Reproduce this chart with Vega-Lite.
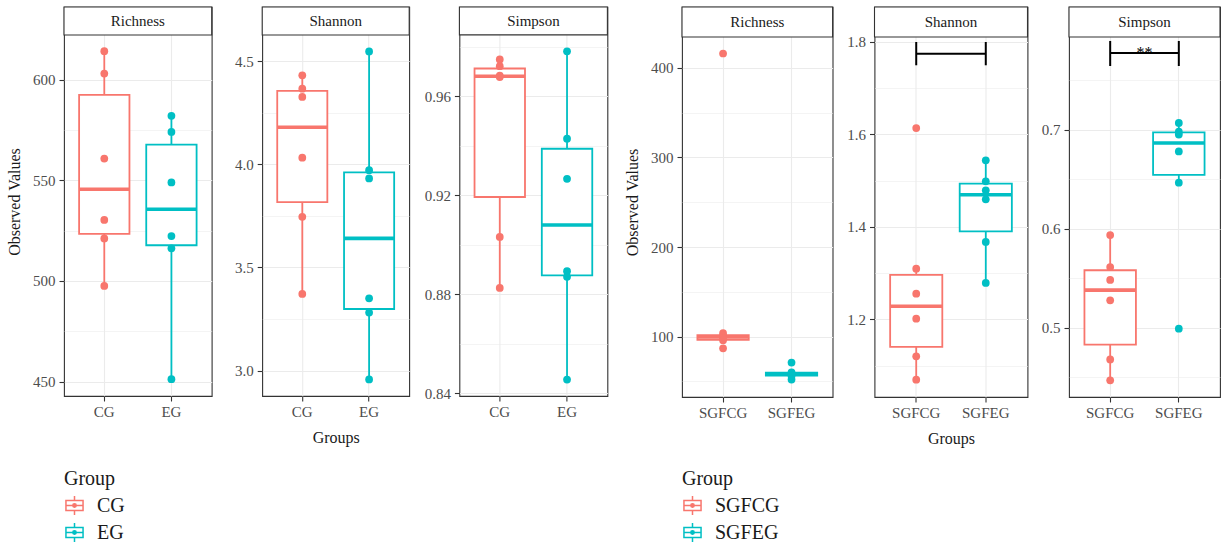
{
  "$schema": "https://vega.github.io/schema/vega-lite/v6.json",
  "padding": {"left": 5, "top": 5, "right": 0, "bottom": 0},
  "config": {
    "font": "Liberation Serif",
    "view": {"stroke": "#333333", "strokeWidth": 1.1},
    "axis": {"labelFontSize": 15, "labelColor": "#4D4D4D", "tickColor": "#333333", "tickSize": 5, "tickWidth": 1.1, "domain": false, "gridColor": "#EBEBEB", "titleFontSize": 16, "titleFontWeight": "normal", "titleColor": "#1A1A1A", "labelPadding": 4},
    "axisX": {"labelPadding": 3, "labelAngle": 0, "gridWidth": 1.1, "titlePadding": 10}
  },
  "datasets": {
    "pts": [
      {"panel": "L_Rich", "group": "CG", "value": 614.1}, {"panel": "L_Rich", "group": "CG", "value": 603.0}, {"panel": "L_Rich", "group": "CG", "value": 560.8}, {"panel": "L_Rich", "group": "CG", "value": 530.3}, {"panel": "L_Rich", "group": "CG", "value": 521.1}, {"panel": "L_Rich", "group": "CG", "value": 497.5},
      {"panel": "L_Rich", "group": "EG", "value": 582.0}, {"panel": "L_Rich", "group": "EG", "value": 574.0}, {"panel": "L_Rich", "group": "EG", "value": 548.9}, {"panel": "L_Rich", "group": "EG", "value": 522.3}, {"panel": "L_Rich", "group": "EG", "value": 516.2}, {"panel": "L_Rich", "group": "EG", "value": 451.2},
      {"panel": "L_Shan", "group": "CG", "value": 4.431}, {"panel": "L_Shan", "group": "CG", "value": 4.366}, {"panel": "L_Shan", "group": "CG", "value": 4.326}, {"panel": "L_Shan", "group": "CG", "value": 4.032}, {"panel": "L_Shan", "group": "CG", "value": 3.745}, {"panel": "L_Shan", "group": "CG", "value": 3.371},
      {"panel": "L_Shan", "group": "EG", "value": 4.547}, {"panel": "L_Shan", "group": "EG", "value": 3.971}, {"panel": "L_Shan", "group": "EG", "value": 3.931}, {"panel": "L_Shan", "group": "EG", "value": 3.350}, {"panel": "L_Shan", "group": "EG", "value": 3.281}, {"panel": "L_Shan", "group": "EG", "value": 2.957},
      {"panel": "L_Simp", "group": "CG", "value": 0.9749}, {"panel": "L_Simp", "group": "CG", "value": 0.9722}, {"panel": "L_Simp", "group": "CG", "value": 0.9684}, {"panel": "L_Simp", "group": "CG", "value": 0.9678}, {"panel": "L_Simp", "group": "CG", "value": 0.9032}, {"panel": "L_Simp", "group": "CG", "value": 0.8826},
      {"panel": "L_Simp", "group": "EG", "value": 0.9782}, {"panel": "L_Simp", "group": "EG", "value": 0.9429}, {"panel": "L_Simp", "group": "EG", "value": 0.9267}, {"panel": "L_Simp", "group": "EG", "value": 0.8894}, {"panel": "L_Simp", "group": "EG", "value": 0.8871}, {"panel": "L_Simp", "group": "EG", "value": 0.8456},
      {"panel": "R_Rich", "group": "SGFCG", "value": 416}, {"panel": "R_Rich", "group": "SGFCG", "value": 104}, {"panel": "R_Rich", "group": "SGFCG", "value": 101}, {"panel": "R_Rich", "group": "SGFCG", "value": 98}, {"panel": "R_Rich", "group": "SGFCG", "value": 96}, {"panel": "R_Rich", "group": "SGFCG", "value": 87},
      {"panel": "R_Rich", "group": "SGFEG", "value": 71}, {"panel": "R_Rich", "group": "SGFEG", "value": 60}, {"panel": "R_Rich", "group": "SGFEG", "value": 59}, {"panel": "R_Rich", "group": "SGFEG", "value": 58}, {"panel": "R_Rich", "group": "SGFEG", "value": 56}, {"panel": "R_Rich", "group": "SGFEG", "value": 52},
      {"panel": "R_Shan", "group": "SGFCG", "value": 1.6139}, {"panel": "R_Shan", "group": "SGFCG", "value": 1.3095}, {"panel": "R_Shan", "group": "SGFCG", "value": 1.2554}, {"panel": "R_Shan", "group": "SGFCG", "value": 1.2013}, {"panel": "R_Shan", "group": "SGFCG", "value": 1.1199}, {"panel": "R_Shan", "group": "SGFCG", "value": 1.0693},
      {"panel": "R_Shan", "group": "SGFEG", "value": 1.5440}, {"panel": "R_Shan", "group": "SGFEG", "value": 1.4986}, {"panel": "R_Shan", "group": "SGFEG", "value": 1.4791}, {"panel": "R_Shan", "group": "SGFEG", "value": 1.4597}, {"panel": "R_Shan", "group": "SGFEG", "value": 1.3673}, {"panel": "R_Shan", "group": "SGFEG", "value": 1.2786},
      {"panel": "R_Simp", "group": "SGFCG", "value": 0.5936}, {"panel": "R_Simp", "group": "SGFCG", "value": 0.5613}, {"panel": "R_Simp", "group": "SGFCG", "value": 0.5482}, {"panel": "R_Simp", "group": "SGFCG", "value": 0.5276}, {"panel": "R_Simp", "group": "SGFCG", "value": 0.4680}, {"panel": "R_Simp", "group": "SGFCG", "value": 0.4468},
      {"panel": "R_Simp", "group": "SGFEG", "value": 0.7068}, {"panel": "R_Simp", "group": "SGFEG", "value": 0.6980}, {"panel": "R_Simp", "group": "SGFEG", "value": 0.6950}, {"panel": "R_Simp", "group": "SGFEG", "value": 0.6780}, {"panel": "R_Simp", "group": "SGFEG", "value": 0.6465}, {"panel": "R_Simp", "group": "SGFEG", "value": 0.4990}
    ],
    "box": [
      {"panel": "L_Rich", "group": "CG", "lower": 497.5, "q1": 523.4, "median": 545.55, "q3": 592.45, "upper": 614.1},
      {"panel": "L_Rich", "group": "EG", "lower": 451.2, "q1": 517.73, "median": 535.6, "q3": 567.73, "upper": 582.0},
      {"panel": "L_Shan", "group": "CG", "lower": 3.371, "q1": 3.8168, "median": 4.179, "q3": 4.356, "upper": 4.431},
      {"panel": "L_Shan", "group": "EG", "lower": 2.957, "q1": 3.2983, "median": 3.6405, "q3": 3.961, "upper": 4.547},
      {"panel": "L_Simp", "group": "CG", "lower": 0.8826, "q1": 0.91935, "median": 0.9681, "q3": 0.97125, "upper": 0.9749},
      {"panel": "L_Simp", "group": "EG", "lower": 0.8456, "q1": 0.88768, "median": 0.90805, "q3": 0.93885, "upper": 0.9782},
      {"panel": "R_Rich", "group": "SGFCG", "lower": 96, "q1": 96.5, "median": 99.5, "q3": 101.75, "upper": 104},
      {"panel": "R_Rich", "group": "SGFEG", "lower": 52, "q1": 56.5, "median": 58.5, "q3": 59.75, "upper": 60},
      {"panel": "R_Shan", "group": "SGFCG", "lower": 1.0693, "q1": 1.14025, "median": 1.22835, "q3": 1.29598, "upper": 1.3095},
      {"panel": "R_Shan", "group": "SGFEG", "lower": 1.2786, "q1": 1.3904, "median": 1.4694, "q3": 1.49373, "upper": 1.544},
      {"panel": "R_Simp", "group": "SGFCG", "lower": 0.4468, "q1": 0.4829, "median": 0.5379, "q3": 0.55803, "upper": 0.5936},
      {"panel": "R_Simp", "group": "SGFEG", "lower": 0.6465, "q1": 0.65438, "median": 0.6865, "q3": 0.69725, "upper": 0.7068}
    ],
    "sig": [
      {"panel": "R_Shan", "group": "SGFCG", "top": 1.80, "bar": 1.7747, "bottom": 1.7496, "label": "", "label_y": 1.78},
      {"panel": "R_Shan", "group": "SGFEG", "top": 1.80, "bar": 1.7747, "bottom": 1.7496, "label": "", "label_y": 1.78},
      {"panel": "R_Simp", "group": "SGFCG", "top": 0.7896, "bar": 0.7775, "bottom": 0.7643, "label": "**", "label_y": 0.7724},
      {"panel": "R_Simp", "group": "SGFEG", "top": 0.7896, "bar": 0.7775, "bottom": 0.7643, "label": "", "label_y": 0.7724}
    ]
  },
  "resolve": {"scale": {"stroke": "independent", "fill": "independent"}},
  "spacing": 14,
  "hconcat": [
    {
      "spacing": 50.2,
      "bounds": "flush",
      "resolve": {"scale": {"stroke": "independent", "fill": "independent"}},
      "hconcat": [
        {
          "width": 147.7, "height": 389,
          "layer": [
            {"data": {"name": "box"}, "transform": [{"filter": "datum.panel === 'L_Rich'"}],
             "mark": {"type": "rule", "strokeWidth": 1.8},
             "encoding": {
               "x": {"field": "group", "type": "nominal", "title": null, "scale": {"type": "band", "domain": ["CG", "EG"], "paddingInner": 0.25, "paddingOuter": 0.225}, "axis": {"title": null, "grid": true, "bandPosition": 0.5}},
               "y": {"field": "lower", "type": "quantitative", "title": "Observed Values", "scale": {"domain": [442.85, 636.06], "nice": false, "zero": false},
                     "axis": {"title": "Observed Values", "titlePadding": 5.6, "titleY": 194.5, "minExtent": 36, "maxExtent": 36, "values": [450, 475, 500, 525, 550, 575, 600], "format": "d",
                              "labelExpr": "indexof([450,500,550,600], datum.value) >= 0 ? datum.label : ''",
                              "tickOpacity": {"condition": {"test": "indexof([450,500,550,600], datum.value) >= 0", "value": 1}, "value": 0},
                              "gridWidth": {"condition": {"test": "indexof([450,500,550,600], datum.value) >= 0", "value": 1.1}, "value": 0.55}}},
               "y2": {"field": "upper"},
               "stroke": {"field": "group", "type": "nominal", "title": "Group", "scale": {"domain": ["CG", "EG"], "range": ["#F8766D", "#00BFC4"]}}}},
            {"data": {"name": "box"}, "transform": [{"filter": "datum.panel === 'L_Rich'"}],
             "mark": {"type": "bar", "fill": "white", "strokeWidth": 1.8},
             "encoding": {
               "x": {"field": "group", "type": "nominal", "title": null, "scale": {"type": "band", "domain": ["CG", "EG"], "paddingInner": 0.25, "paddingOuter": 0.225}},
               "y": {"field": "q1", "type": "quantitative", "title": "Observed Values", "scale": {"domain": [442.85, 636.06], "nice": false, "zero": false}},
               "y2": {"field": "q3"},
               "stroke": {"field": "group", "type": "nominal", "title": "Group", "scale": {"domain": ["CG", "EG"], "range": ["#F8766D", "#00BFC4"]},
                         "legend": {"title": "Group", "orient": "none", "legendX": 0, "legendY": 462, "symbolType": "M-0.98,-0.52H0.98 M0.9,-0.6V0.6 M0.98,0.52H-0.98 M-0.9,0.6V-0.6 M-0.9,0H0.9 M0,-1V-0.52 M0,0.52V1 M-0.18,0A0.18,0.18 0 1,0 0.18,0A0.18,0.18 0 1,0 -0.18,0", "symbolSize": 361, "symbolStrokeWidth": 1.5, "labelFontSize": 20, "titleFontSize": 20, "titleFontWeight": "normal", "labelOffset": 12, "rowPadding": 2, "titlePadding": 6, "labelColor": "#1A1A1A", "titleColor": "#1A1A1A"}}}},
            {"data": {"name": "box"}, "transform": [{"filter": "datum.panel === 'L_Rich'"}],
             "mark": {"type": "bar", "fill": "white", "strokeWidth": 3.6},
             "encoding": {
               "x": {"field": "group", "type": "nominal", "title": null, "scale": {"type": "band", "domain": ["CG", "EG"], "paddingInner": 0.25, "paddingOuter": 0.225}},
               "y": {"field": "median", "type": "quantitative", "title": "Observed Values", "scale": {"domain": [442.85, 636.06], "nice": false, "zero": false}},
               "y2": {"field": "median"},
               "stroke": {"field": "group", "type": "nominal", "title": "Group", "scale": {"domain": ["CG", "EG"], "range": ["#F8766D", "#00BFC4"]}}}},
            {"data": {"name": "pts"}, "transform": [{"filter": "datum.panel === 'L_Rich'"}],
             "mark": {"type": "circle", "size": 60, "opacity": 1},
             "encoding": {
               "x": {"field": "group", "type": "nominal", "title": null, "scale": {"type": "band", "domain": ["CG", "EG"], "paddingInner": 0.25, "paddingOuter": 0.225}},
               "y": {"field": "value", "type": "quantitative", "title": "Observed Values", "scale": {"domain": [442.85, 636.06], "nice": false, "zero": false}},
               "fill": {"field": "group", "type": "nominal", "scale": {"domain": ["CG", "EG"], "range": ["#F8766D", "#00BFC4"]}, "legend": null}}},
            {"data": {"values": [{"label": "Richness"}]},
             "mark": {"type": "rect", "fill": "white", "stroke": "#333333", "strokeWidth": 1.1},
             "encoding": {"y": {"datum": 622.15, "type": "quantitative", "title": "Observed Values", "scale": {"domain": [442.85, 636.06], "nice": false, "zero": false}}, "y2": {"datum": 636.06}}},
            {"data": {"values": [{"label": "Richness"}]},
             "mark": {"type": "text", "fontSize": 15, "color": "#1A1A1A"},
             "encoding": {"y": {"datum": 629.1, "type": "quantitative", "title": "Observed Values", "scale": {"domain": [442.85, 636.06], "nice": false, "zero": false}}, "text": {"field": "label"}}}
          ]
        },
        {
          "width": 147, "height": 389,
          "layer": [
            {"data": {"name": "box"}, "transform": [{"filter": "datum.panel === 'L_Shan'"}],
             "mark": {"type": "rule", "strokeWidth": 1.8},
             "encoding": {
               "x": {"field": "group", "type": "nominal", "title": "Groups", "scale": {"type": "band", "domain": ["CG", "EG"], "paddingInner": 0.25, "paddingOuter": 0.225}, "axis": {"title": "Groups", "grid": true, "bandPosition": 0.5}},
               "y": {"field": "lower", "type": "quantitative", "title": null, "scale": {"domain": [2.8765, 4.7622], "nice": false, "zero": false},
                     "axis": {"title": null, "values": [3.0, 3.25, 3.5, 3.75, 4.0, 4.25, 4.5], "format": ".1f",
                              "labelExpr": "indexof([3,3.5,4,4.5], datum.value) >= 0 ? datum.label : ''",
                              "tickOpacity": {"condition": {"test": "indexof([3,3.5,4,4.5], datum.value) >= 0", "value": 1}, "value": 0},
                              "gridWidth": {"condition": {"test": "indexof([3,3.5,4,4.5], datum.value) >= 0", "value": 1.1}, "value": 0.55}}},
               "y2": {"field": "upper"},
               "stroke": {"field": "group", "type": "nominal", "scale": {"domain": ["CG", "EG"], "range": ["#F8766D", "#00BFC4"]}, "legend": null}}},
            {"data": {"name": "box"}, "transform": [{"filter": "datum.panel === 'L_Shan'"}],
             "mark": {"type": "bar", "fill": "white", "strokeWidth": 1.8},
             "encoding": {
               "x": {"field": "group", "type": "nominal", "title": "Groups", "scale": {"type": "band", "domain": ["CG", "EG"], "paddingInner": 0.25, "paddingOuter": 0.225}},
               "y": {"field": "q1", "type": "quantitative", "title": null, "scale": {"domain": [2.8765, 4.7622], "nice": false, "zero": false}},
               "y2": {"field": "q3"},
               "stroke": {"field": "group", "type": "nominal", "scale": {"domain": ["CG", "EG"], "range": ["#F8766D", "#00BFC4"]}, "legend": null}}},
            {"data": {"name": "box"}, "transform": [{"filter": "datum.panel === 'L_Shan'"}],
             "mark": {"type": "bar", "fill": "white", "strokeWidth": 3.6},
             "encoding": {
               "x": {"field": "group", "type": "nominal", "title": "Groups", "scale": {"type": "band", "domain": ["CG", "EG"], "paddingInner": 0.25, "paddingOuter": 0.225}},
               "y": {"field": "median", "type": "quantitative", "title": null, "scale": {"domain": [2.8765, 4.7622], "nice": false, "zero": false}},
               "y2": {"field": "median"},
               "stroke": {"field": "group", "type": "nominal", "scale": {"domain": ["CG", "EG"], "range": ["#F8766D", "#00BFC4"]}, "legend": null}}},
            {"data": {"name": "pts"}, "transform": [{"filter": "datum.panel === 'L_Shan'"}],
             "mark": {"type": "circle", "size": 60, "opacity": 1},
             "encoding": {
               "x": {"field": "group", "type": "nominal", "title": "Groups", "scale": {"type": "band", "domain": ["CG", "EG"], "paddingInner": 0.25, "paddingOuter": 0.225}},
               "y": {"field": "value", "type": "quantitative", "title": null, "scale": {"domain": [2.8765, 4.7622], "nice": false, "zero": false}},
               "fill": {"field": "group", "type": "nominal", "scale": {"domain": ["CG", "EG"], "range": ["#F8766D", "#00BFC4"]}, "legend": null}}},
            {"data": {"values": [{"label": "Shannon"}]},
             "mark": {"type": "rect", "fill": "white", "stroke": "#333333", "strokeWidth": 1.1},
             "encoding": {"y": {"datum": 4.6265, "type": "quantitative", "title": null, "scale": {"domain": [2.8765, 4.7622], "nice": false, "zero": false}}, "y2": {"datum": 4.7622}}},
            {"data": {"values": [{"label": "Shannon"}]},
             "mark": {"type": "text", "fontSize": 15, "color": "#1A1A1A"},
             "encoding": {"y": {"datum": 4.6944, "type": "quantitative", "title": null, "scale": {"domain": [2.8765, 4.7622], "nice": false, "zero": false}}, "text": {"field": "label"}}}
          ]
        },
        {
          "width": 148, "height": 389,
          "layer": [
            {"data": {"name": "box"}, "transform": [{"filter": "datum.panel === 'L_Simp'"}],
             "mark": {"type": "rule", "strokeWidth": 1.8},
             "encoding": {
               "x": {"field": "group", "type": "nominal", "title": null, "scale": {"type": "band", "domain": ["CG", "EG"], "paddingInner": 0.25, "paddingOuter": 0.225}, "axis": {"title": null, "grid": true, "bandPosition": 0.5}},
               "y": {"field": "lower", "type": "quantitative", "title": null, "scale": {"domain": [0.83897, 0.9961], "nice": false, "zero": false},
                     "axis": {"title": null, "values": [0.84, 0.86, 0.88, 0.9, 0.92, 0.94, 0.96, 0.98], "format": ".2f",
                              "labelExpr": "indexof([0.84,0.88,0.92,0.96], datum.value) >= 0 ? datum.label : ''",
                              "tickOpacity": {"condition": {"test": "indexof([0.84,0.88,0.92,0.96], datum.value) >= 0", "value": 1}, "value": 0},
                              "gridWidth": {"condition": {"test": "indexof([0.84,0.88,0.92,0.96], datum.value) >= 0", "value": 1.1}, "value": 0.55}}},
               "y2": {"field": "upper"},
               "stroke": {"field": "group", "type": "nominal", "scale": {"domain": ["CG", "EG"], "range": ["#F8766D", "#00BFC4"]}, "legend": null}}},
            {"data": {"name": "box"}, "transform": [{"filter": "datum.panel === 'L_Simp'"}],
             "mark": {"type": "bar", "fill": "white", "strokeWidth": 1.8},
             "encoding": {
               "x": {"field": "group", "type": "nominal", "title": null, "scale": {"type": "band", "domain": ["CG", "EG"], "paddingInner": 0.25, "paddingOuter": 0.225}},
               "y": {"field": "q1", "type": "quantitative", "title": null, "scale": {"domain": [0.83897, 0.9961], "nice": false, "zero": false}},
               "y2": {"field": "q3"},
               "stroke": {"field": "group", "type": "nominal", "scale": {"domain": ["CG", "EG"], "range": ["#F8766D", "#00BFC4"]}, "legend": null}}},
            {"data": {"name": "box"}, "transform": [{"filter": "datum.panel === 'L_Simp'"}],
             "mark": {"type": "bar", "fill": "white", "strokeWidth": 3.6},
             "encoding": {
               "x": {"field": "group", "type": "nominal", "title": null, "scale": {"type": "band", "domain": ["CG", "EG"], "paddingInner": 0.25, "paddingOuter": 0.225}},
               "y": {"field": "median", "type": "quantitative", "title": null, "scale": {"domain": [0.83897, 0.9961], "nice": false, "zero": false}},
               "y2": {"field": "median"},
               "stroke": {"field": "group", "type": "nominal", "scale": {"domain": ["CG", "EG"], "range": ["#F8766D", "#00BFC4"]}, "legend": null}}},
            {"data": {"name": "pts"}, "transform": [{"filter": "datum.panel === 'L_Simp'"}],
             "mark": {"type": "circle", "size": 60, "opacity": 1},
             "encoding": {
               "x": {"field": "group", "type": "nominal", "title": null, "scale": {"type": "band", "domain": ["CG", "EG"], "paddingInner": 0.25, "paddingOuter": 0.225}},
               "y": {"field": "value", "type": "quantitative", "title": null, "scale": {"domain": [0.83897, 0.9961], "nice": false, "zero": false}},
               "fill": {"field": "group", "type": "nominal", "scale": {"domain": ["CG", "EG"], "range": ["#F8766D", "#00BFC4"]}, "legend": null}}},
            {"data": {"values": [{"label": "Simpson"}]},
             "mark": {"type": "rect", "fill": "white", "stroke": "#333333", "strokeWidth": 1.1},
             "encoding": {"y": {"datum": 0.98483, "type": "quantitative", "title": null, "scale": {"domain": [0.83897, 0.9961], "nice": false, "zero": false}}, "y2": {"datum": 0.9961}}},
            {"data": {"values": [{"label": "Simpson"}]},
             "mark": {"type": "text", "fontSize": 15, "color": "#1A1A1A"},
             "encoding": {"y": {"datum": 0.99047, "type": "quantitative", "title": null, "scale": {"domain": [0.83897, 0.9961], "nice": false, "zero": false}}, "text": {"field": "label"}}}
          ]
        }
      ]
    },
    {
      "spacing": 41.5,
      "bounds": "flush",
      "resolve": {"scale": {"stroke": "independent", "fill": "independent"}},
      "hconcat": [
        {
          "width": 150.6, "height": 390,
          "layer": [
            {"data": {"name": "box"}, "transform": [{"filter": "datum.panel === 'R_Rich'"}],
             "mark": {"type": "rule", "strokeWidth": 1.8},
             "encoding": {
               "x": {"field": "group", "type": "nominal", "title": null, "scale": {"type": "band", "domain": ["SGFCG", "SGFEG"], "paddingInner": 0.25, "paddingOuter": 0.225}, "axis": {"title": null, "grid": true, "bandPosition": 0.5}},
               "y": {"field": "lower", "type": "quantitative", "title": "Observed Values", "scale": {"domain": [32.6, 467.9], "nice": false, "zero": false},
                     "axis": {"title": "Observed Values", "titlePadding": 5.6, "titleY": 195, "minExtent": 36, "maxExtent": 36, "values": [50, 100, 150, 200, 250, 300, 350, 400], "format": "d",
                              "labelExpr": "indexof([100,200,300,400], datum.value) >= 0 ? datum.label : ''",
                              "tickOpacity": {"condition": {"test": "indexof([100,200,300,400], datum.value) >= 0", "value": 1}, "value": 0},
                              "gridWidth": {"condition": {"test": "indexof([100,200,300,400], datum.value) >= 0", "value": 1.1}, "value": 0.55}}},
               "y2": {"field": "upper"},
               "stroke": {"field": "group", "type": "nominal", "title": "Group", "scale": {"domain": ["SGFCG", "SGFEG"], "range": ["#F8766D", "#00BFC4"]}}}},
            {"data": {"name": "box"}, "transform": [{"filter": "datum.panel === 'R_Rich'"}],
             "mark": {"type": "bar", "fill": "white", "strokeWidth": 1.8},
             "encoding": {
               "x": {"field": "group", "type": "nominal", "title": null, "scale": {"type": "band", "domain": ["SGFCG", "SGFEG"], "paddingInner": 0.25, "paddingOuter": 0.225}},
               "y": {"field": "q1", "type": "quantitative", "title": "Observed Values", "scale": {"domain": [32.6, 467.9], "nice": false, "zero": false}},
               "y2": {"field": "q3"},
               "stroke": {"field": "group", "type": "nominal", "title": "Group", "scale": {"domain": ["SGFCG", "SGFEG"], "range": ["#F8766D", "#00BFC4"]},
                         "legend": {"title": "Group", "orient": "none", "legendX": 0, "legendY": 462, "symbolType": "M-0.98,-0.52H0.98 M0.9,-0.6V0.6 M0.98,0.52H-0.98 M-0.9,0.6V-0.6 M-0.9,0H0.9 M0,-1V-0.52 M0,0.52V1 M-0.18,0A0.18,0.18 0 1,0 0.18,0A0.18,0.18 0 1,0 -0.18,0", "symbolSize": 361, "symbolStrokeWidth": 1.5, "labelFontSize": 20, "titleFontSize": 20, "titleFontWeight": "normal", "labelOffset": 12, "rowPadding": 2, "titlePadding": 6, "labelColor": "#1A1A1A", "titleColor": "#1A1A1A"}}}},
            {"data": {"name": "box"}, "transform": [{"filter": "datum.panel === 'R_Rich'"}],
             "mark": {"type": "bar", "fill": "white", "strokeWidth": 3.6},
             "encoding": {
               "x": {"field": "group", "type": "nominal", "title": null, "scale": {"type": "band", "domain": ["SGFCG", "SGFEG"], "paddingInner": 0.25, "paddingOuter": 0.225}},
               "y": {"field": "median", "type": "quantitative", "title": "Observed Values", "scale": {"domain": [32.6, 467.9], "nice": false, "zero": false}},
               "y2": {"field": "median"},
               "stroke": {"field": "group", "type": "nominal", "title": "Group", "scale": {"domain": ["SGFCG", "SGFEG"], "range": ["#F8766D", "#00BFC4"]}}}},
            {"data": {"name": "pts"}, "transform": [{"filter": "datum.panel === 'R_Rich'"}],
             "mark": {"type": "circle", "size": 60, "opacity": 1},
             "encoding": {
               "x": {"field": "group", "type": "nominal", "title": null, "scale": {"type": "band", "domain": ["SGFCG", "SGFEG"], "paddingInner": 0.25, "paddingOuter": 0.225}},
               "y": {"field": "value", "type": "quantitative", "title": "Observed Values", "scale": {"domain": [32.6, 467.9], "nice": false, "zero": false}},
               "fill": {"field": "group", "type": "nominal", "scale": {"domain": ["SGFCG", "SGFEG"], "range": ["#F8766D", "#00BFC4"]}, "legend": null}}},
            {"data": {"values": [{"label": "Richness"}]},
             "mark": {"type": "rect", "fill": "white", "stroke": "#333333", "strokeWidth": 1.1},
             "encoding": {"y": {"datum": 434.4, "type": "quantitative", "title": "Observed Values", "scale": {"domain": [32.6, 467.9], "nice": false, "zero": false}}, "y2": {"datum": 467.9}}},
            {"data": {"values": [{"label": "Richness"}]},
             "mark": {"type": "text", "fontSize": 15, "color": "#1A1A1A"},
             "encoding": {"y": {"datum": 451.15, "type": "quantitative", "title": "Observed Values", "scale": {"domain": [32.6, 467.9], "nice": false, "zero": false}}, "text": {"field": "label"}}}
          ]
        },
        {
          "width": 153, "height": 390,
          "layer": [
            {"data": {"name": "box"}, "transform": [{"filter": "datum.panel === 'R_Shan'"}],
             "mark": {"type": "rule", "strokeWidth": 1.8},
             "encoding": {
               "x": {"field": "group", "type": "nominal", "title": "Groups", "scale": {"type": "band", "domain": ["SGFCG", "SGFEG"], "paddingInner": 0.25, "paddingOuter": 0.225}, "axis": {"title": "Groups", "grid": true, "bandPosition": 0.5}},
               "y": {"field": "lower", "type": "quantitative", "title": null, "scale": {"domain": [1.0319, 1.8757], "nice": false, "zero": false},
                     "axis": {"title": null, "values": [1.1, 1.2, 1.3, 1.4, 1.5, 1.6, 1.7, 1.8], "format": ".1f",
                              "labelExpr": "indexof([1.2,1.4,1.6,1.8], datum.value) >= 0 ? datum.label : ''",
                              "tickOpacity": {"condition": {"test": "indexof([1.2,1.4,1.6,1.8], datum.value) >= 0", "value": 1}, "value": 0},
                              "gridWidth": {"condition": {"test": "indexof([1.2,1.4,1.6,1.8], datum.value) >= 0", "value": 1.1}, "value": 0.55}}},
               "y2": {"field": "upper"},
               "stroke": {"field": "group", "type": "nominal", "scale": {"domain": ["SGFCG", "SGFEG"], "range": ["#F8766D", "#00BFC4"]}, "legend": null}}},
            {"data": {"name": "box"}, "transform": [{"filter": "datum.panel === 'R_Shan'"}],
             "mark": {"type": "bar", "fill": "white", "strokeWidth": 1.8},
             "encoding": {
               "x": {"field": "group", "type": "nominal", "title": "Groups", "scale": {"type": "band", "domain": ["SGFCG", "SGFEG"], "paddingInner": 0.25, "paddingOuter": 0.225}},
               "y": {"field": "q1", "type": "quantitative", "title": null, "scale": {"domain": [1.0319, 1.8757], "nice": false, "zero": false}},
               "y2": {"field": "q3"},
               "stroke": {"field": "group", "type": "nominal", "scale": {"domain": ["SGFCG", "SGFEG"], "range": ["#F8766D", "#00BFC4"]}, "legend": null}}},
            {"data": {"name": "box"}, "transform": [{"filter": "datum.panel === 'R_Shan'"}],
             "mark": {"type": "bar", "fill": "white", "strokeWidth": 3.6},
             "encoding": {
               "x": {"field": "group", "type": "nominal", "title": "Groups", "scale": {"type": "band", "domain": ["SGFCG", "SGFEG"], "paddingInner": 0.25, "paddingOuter": 0.225}},
               "y": {"field": "median", "type": "quantitative", "title": null, "scale": {"domain": [1.0319, 1.8757], "nice": false, "zero": false}},
               "y2": {"field": "median"},
               "stroke": {"field": "group", "type": "nominal", "scale": {"domain": ["SGFCG", "SGFEG"], "range": ["#F8766D", "#00BFC4"]}, "legend": null}}},
            {"data": {"name": "pts"}, "transform": [{"filter": "datum.panel === 'R_Shan'"}],
             "mark": {"type": "circle", "size": 60, "opacity": 1},
             "encoding": {
               "x": {"field": "group", "type": "nominal", "title": "Groups", "scale": {"type": "band", "domain": ["SGFCG", "SGFEG"], "paddingInner": 0.25, "paddingOuter": 0.225}},
               "y": {"field": "value", "type": "quantitative", "title": null, "scale": {"domain": [1.0319, 1.8757], "nice": false, "zero": false}},
               "fill": {"field": "group", "type": "nominal", "scale": {"domain": ["SGFCG", "SGFEG"], "range": ["#F8766D", "#00BFC4"]}, "legend": null}}},
            {"data": {"name": "sig"}, "transform": [{"filter": "datum.panel === 'R_Shan'"}],
             "mark": {"type": "rule", "color": "#000000", "strokeWidth": 2},
             "encoding": {
               "x": {"field": "group", "type": "nominal", "title": "Groups", "scale": {"type": "band", "domain": ["SGFCG", "SGFEG"], "paddingInner": 0.25, "paddingOuter": 0.225}},
               "y": {"field": "top", "type": "quantitative", "title": null, "scale": {"domain": [1.0319, 1.8757], "nice": false, "zero": false}},
               "y2": {"field": "bottom"}}},
            {"data": {"name": "sig"}, "transform": [{"filter": "datum.panel === 'R_Shan'"}],
             "mark": {"type": "line", "color": "#000000", "strokeWidth": 2},
             "encoding": {
               "x": {"field": "group", "type": "nominal", "title": "Groups", "scale": {"type": "band", "domain": ["SGFCG", "SGFEG"], "paddingInner": 0.25, "paddingOuter": 0.225}},
               "y": {"field": "bar", "type": "quantitative", "title": null, "scale": {"domain": [1.0319, 1.8757], "nice": false, "zero": false}}}},
            {"data": {"values": [{"label": "Shannon"}]},
             "mark": {"type": "rect", "fill": "white", "stroke": "#333333", "strokeWidth": 1.1},
             "encoding": {"y": {"datum": 1.8108, "type": "quantitative", "title": null, "scale": {"domain": [1.0319, 1.8757], "nice": false, "zero": false}}, "y2": {"datum": 1.8757}}},
            {"data": {"values": [{"label": "Shannon"}]},
             "mark": {"type": "text", "fontSize": 15, "color": "#1A1A1A"},
             "encoding": {"y": {"datum": 1.84325, "type": "quantitative", "title": null, "scale": {"domain": [1.0319, 1.8757], "nice": false, "zero": false}}, "text": {"field": "label"}}}
          ]
        },
        {
          "width": 151, "height": 390,
          "layer": [
            {"data": {"name": "box"}, "transform": [{"filter": "datum.panel === 'R_Simp'"}],
             "mark": {"type": "rule", "strokeWidth": 1.8},
             "encoding": {
               "x": {"field": "group", "type": "nominal", "title": null, "scale": {"type": "band", "domain": ["SGFCG", "SGFEG"], "paddingInner": 0.25, "paddingOuter": 0.225}, "axis": {"title": null, "grid": true, "bandPosition": 0.5}},
               "y": {"field": "lower", "type": "quantitative", "title": null, "scale": {"domain": [0.43, 0.8239], "nice": false, "zero": false},
                     "axis": {"title": null, "values": [0.45, 0.5, 0.55, 0.6, 0.65, 0.7, 0.75], "format": ".1f",
                              "labelExpr": "indexof([0.5,0.6,0.7], datum.value) >= 0 ? datum.label : ''",
                              "tickOpacity": {"condition": {"test": "indexof([0.5,0.6,0.7], datum.value) >= 0", "value": 1}, "value": 0},
                              "gridWidth": {"condition": {"test": "indexof([0.5,0.6,0.7], datum.value) >= 0", "value": 1.1}, "value": 0.55}}},
               "y2": {"field": "upper"},
               "stroke": {"field": "group", "type": "nominal", "scale": {"domain": ["SGFCG", "SGFEG"], "range": ["#F8766D", "#00BFC4"]}, "legend": null}}},
            {"data": {"name": "box"}, "transform": [{"filter": "datum.panel === 'R_Simp'"}],
             "mark": {"type": "bar", "fill": "white", "strokeWidth": 1.8},
             "encoding": {
               "x": {"field": "group", "type": "nominal", "title": null, "scale": {"type": "band", "domain": ["SGFCG", "SGFEG"], "paddingInner": 0.25, "paddingOuter": 0.225}},
               "y": {"field": "q1", "type": "quantitative", "title": null, "scale": {"domain": [0.43, 0.8239], "nice": false, "zero": false}},
               "y2": {"field": "q3"},
               "stroke": {"field": "group", "type": "nominal", "scale": {"domain": ["SGFCG", "SGFEG"], "range": ["#F8766D", "#00BFC4"]}, "legend": null}}},
            {"data": {"name": "box"}, "transform": [{"filter": "datum.panel === 'R_Simp'"}],
             "mark": {"type": "bar", "fill": "white", "strokeWidth": 3.6},
             "encoding": {
               "x": {"field": "group", "type": "nominal", "title": null, "scale": {"type": "band", "domain": ["SGFCG", "SGFEG"], "paddingInner": 0.25, "paddingOuter": 0.225}},
               "y": {"field": "median", "type": "quantitative", "title": null, "scale": {"domain": [0.43, 0.8239], "nice": false, "zero": false}},
               "y2": {"field": "median"},
               "stroke": {"field": "group", "type": "nominal", "scale": {"domain": ["SGFCG", "SGFEG"], "range": ["#F8766D", "#00BFC4"]}, "legend": null}}},
            {"data": {"name": "pts"}, "transform": [{"filter": "datum.panel === 'R_Simp'"}],
             "mark": {"type": "circle", "size": 60, "opacity": 1},
             "encoding": {
               "x": {"field": "group", "type": "nominal", "title": null, "scale": {"type": "band", "domain": ["SGFCG", "SGFEG"], "paddingInner": 0.25, "paddingOuter": 0.225}},
               "y": {"field": "value", "type": "quantitative", "title": null, "scale": {"domain": [0.43, 0.8239], "nice": false, "zero": false}},
               "fill": {"field": "group", "type": "nominal", "scale": {"domain": ["SGFCG", "SGFEG"], "range": ["#F8766D", "#00BFC4"]}, "legend": null}}},
            {"data": {"name": "sig"}, "transform": [{"filter": "datum.panel === 'R_Simp'"}],
             "mark": {"type": "rule", "color": "#000000", "strokeWidth": 2},
             "encoding": {
               "x": {"field": "group", "type": "nominal", "title": null, "scale": {"type": "band", "domain": ["SGFCG", "SGFEG"], "paddingInner": 0.25, "paddingOuter": 0.225}},
               "y": {"field": "top", "type": "quantitative", "title": null, "scale": {"domain": [0.43, 0.8239], "nice": false, "zero": false}},
               "y2": {"field": "bottom"}}},
            {"data": {"name": "sig"}, "transform": [{"filter": "datum.panel === 'R_Simp'"}],
             "mark": {"type": "line", "color": "#000000", "strokeWidth": 2},
             "encoding": {
               "x": {"field": "group", "type": "nominal", "title": null, "scale": {"type": "band", "domain": ["SGFCG", "SGFEG"], "paddingInner": 0.25, "paddingOuter": 0.225}},
               "y": {"field": "bar", "type": "quantitative", "title": null, "scale": {"domain": [0.43, 0.8239], "nice": false, "zero": false}}}},
            {"data": {"name": "sig"}, "transform": [{"filter": "datum.panel === 'R_Simp' && datum.label !== ''"}],
             "mark": {"type": "text", "fontSize": 16, "color": "#000000", "baseline": "alphabetic", "dx": 34.3},
             "encoding": {
               "x": {"field": "group", "type": "nominal", "title": null, "scale": {"type": "band", "domain": ["SGFCG", "SGFEG"], "paddingInner": 0.25, "paddingOuter": 0.225}},
               "y": {"field": "label_y", "type": "quantitative", "title": null, "scale": {"domain": [0.43, 0.8239], "nice": false, "zero": false}},
               "text": {"field": "label"}}},
            {"data": {"values": [{"label": "Simpson"}]},
             "mark": {"type": "rect", "fill": "white", "stroke": "#333333", "strokeWidth": 1.1},
             "encoding": {"y": {"datum": 0.7936, "type": "quantitative", "title": null, "scale": {"domain": [0.43, 0.8239], "nice": false, "zero": false}}, "y2": {"datum": 0.8239}}},
            {"data": {"values": [{"label": "Simpson"}]},
             "mark": {"type": "text", "fontSize": 15, "color": "#1A1A1A"},
             "encoding": {"y": {"datum": 0.80875, "type": "quantitative", "title": null, "scale": {"domain": [0.43, 0.8239], "nice": false, "zero": false}}, "text": {"field": "label"}}}
          ]
        }
      ]
    }
  ]
}
